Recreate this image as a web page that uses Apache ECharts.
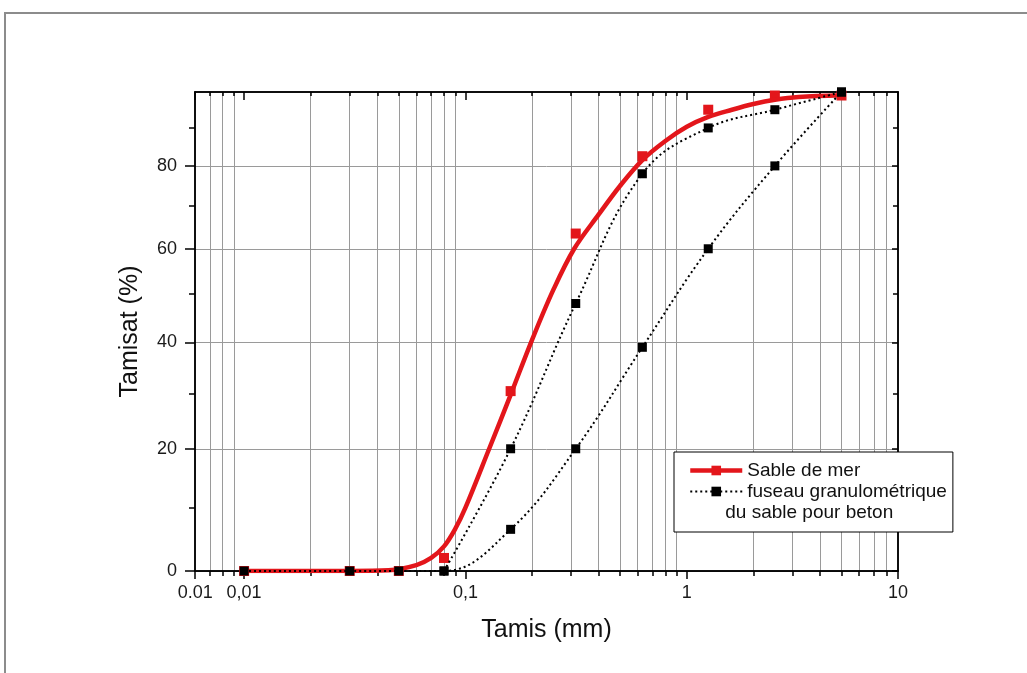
<!DOCTYPE html>
<html>
<head>
<meta charset="UTF-8">
<title>Courbe granulométrique</title>
<script src="https://cdn.jsdelivr.net/npm/echarts@6/dist/echarts.min.js"></script>
<style>
    body { margin: 0; background: #fff; }
    #cadre { position: absolute; left: 4px; top: 12px; width: 1030px; height: 670px;
             border-top: 2px solid #8c8c8c; border-left: 2px solid #8c8c8c; }
    #main { position: absolute; left: 0; top: 0; width: 1027px; height: 673px; }
</style>
</head>
<body>
<div id="cadre"></div>
<div id="main"></div>
<script>
// ouvertures des tamis (mm)
var tamis = [0.01, 0.03, 0.05, 0.08, 0.16, 0.315, 0.63, 1.25, 2.5, 5];
// tamisats (%)
var sableMer  = [0, 0, 0, 2, 30.5, 63.5, 82.5, 95, 99, 99];
var fuseauSup = [null, null, null, 0, 20, 48, 78, 90, 95, 100];
var fuseauInf = [0, 0, 0, 0, 6.5, 20, 39, 60, 80, 100];
// courbe lissee du sable de mer
var lisseX = [0.01, 0.03, 0.045, 0.06, 0.07, 0.08, 0.09, 0.1, 0.128, 0.16, 0.2, 0.25, 0.31, 0.4, 0.5, 0.63, 0.8, 1, 1.25, 1.6, 2, 2.5, 3.2, 5];
var lisseY = [0, 0, 0.1, 0.9, 2, 3.8, 6.6, 10, 20, 29.8, 40.5, 51, 60, 68, 75, 81.5, 86.5, 90.3, 93, 95, 96.6, 97.8, 98.6, 99.1];

// graduations
var xMajor = [0.00601, 0.01, 0.1, 1, 8.99];
var xMinor = [0.007, 0.008, 0.009,
    0.02, 0.03, 0.04, 0.05, 0.06, 0.07, 0.08, 0.09,
    0.2, 0.3, 0.4, 0.5, 0.6, 0.7, 0.8, 0.9,
    2, 3, 4, 5, 6, 7, 8];
var yMajor = [0, 20, 40, 60, 80];
var yMinor = [10, 30, 50, 70, 90];

// echelle verticale non lineaire du graphique d'origine
var C = 270;
function ty(v) { return v / (v + C); }
function inv(t) { return C * t / (1 - t); }

function paires(xs, ys) {
    var out = [];
    for (var i = 0; i < xs.length; i++) {
        if (ys[i] != null) out.push([xs[i], ty(ys[i])]);
    }
    return out;
}

var rouge = '#e3161b';
var police = 'Liberation Sans, Arial, sans-serif';
var gris = '#9a9a9a';

function xAxe(pos, ticks, len, inside, labels, grid) {
    return {
        type: 'log', logBase: 10, position: pos, min: 0.006, max: 9, silent: true,
        axisLine: { show: true, onZero: false, lineStyle: { color: '#000', width: 1.5 } },
        axisTick: { show: true, inside: inside, length: len, customValues: ticks,
                    lineStyle: { color: '#000', width: 1.5 } },
        axisLabel: labels ? {
            show: true, customValues: ticks, margin: 13, fontSize: 18, color: '#1a1a1a', fontFamily: police,
            formatter: function (v) {
                if (v < 0.0065) return '0.01';
                if (v > 8) return '10';
                return String(+v.toPrecision(3)).replace('.', ',');
            }
        } : { show: false },
        splitLine: { show: grid, lineStyle: { color: gris, width: 1 } },
        minorTick: { show: false }
    };
}

function yAxe(pos, ticks, len, inside, labels, grid) {
    return {
        type: 'value', position: pos, min: 0, max: ty(100), silent: true,
        axisLine: { show: true, onZero: false, lineStyle: { color: '#000', width: 1.5 } },
        axisTick: { show: true, inside: inside, length: len, customValues: ticks.map(ty),
                    lineStyle: { color: '#000', width: 1.5 } },
        axisLabel: labels ? {
            show: true, customValues: ticks.map(ty), margin: 18, fontSize: 18, color: '#1a1a1a', fontFamily: police,
            formatter: function (t) { return Math.round(inv(t)); }
        } : { show: false },
        splitLine: { show: grid, lineStyle: { color: gris, width: 1 } }
    };
}

var xs = [
    xAxe('bottom', xMajor, 8, false, true, false),
    xAxe('bottom', xMinor, 5, false, false, true),
    xAxe('top', xMajor, 8, true, false, false),
    xAxe('top', xMinor, 4, true, false, false)
];
xs[0].name = 'Tamis (mm)';
xs[0].nameLocation = 'middle';
xs[0].nameGap = 47;
xs[0].nameTextStyle = { fontSize: 25, color: '#111', fontFamily: police };

var ys = [
    yAxe('left', yMajor, 10, false, true, true),
    yAxe('left', yMinor, 6, false, false, false),
    yAxe('right', yMajor, 6, true, false, false),
    yAxe('right', yMinor, 5, true, false, false)
];
ys[0].name = 'Tamisat (%)';
ys[0].nameLocation = 'middle';
ys[0].nameGap = 52;
ys[0].nameTextStyle = { fontSize: 25, color: '#111', fontFamily: police };

var nomFuseau = 'fuseau granulométrique';
var nomLigne2 = 'du sable pour beton';
var pointille = { color: '#000', width: 2, type: [2, 3] };

var myChart = echarts.init(document.getElementById('main'));
var option = {
    animation: false,
    grid: { left: 195, right: 129, top: 92, bottom: 102 },
    xAxis: xs,
    yAxis: ys,
    legend: {
        orient: 'vertical', left: 674, top: 452,
        padding: [9, 6, 10, 14], itemGap: 2, itemWidth: 52, itemHeight: 12,
        borderColor: '#000', borderWidth: 1, backgroundColor: '#fff',
        selectedMode: false,
        textStyle: { fontSize: 19, color: '#111', fontFamily: police },
        data: [
            { name: 'Sable de mer', lineStyle: { width: 4.5, color: rouge } },
            { name: nomFuseau, lineStyle: { width: 2, type: [2, 3], color: '#000' } },
            { name: nomLigne2, icon: 'rect', itemStyle: { opacity: 0 }, textStyle: { padding: [0, 0, 0, -22] } }
        ]
    },
    series: [
        {
            name: 'Sable de mer', type: 'line', smooth: 0.35, showSymbol: false,
            symbol: 'rect', symbolSize: 10,
            data: paires(lisseX, lisseY),
            itemStyle: { color: rouge },
            lineStyle: { color: rouge, width: 4.5 }
        },
        {
            name: 'Sable de mer', type: 'scatter', symbol: 'rect', symbolSize: 10,
            data: paires(tamis, sableMer),
            itemStyle: { color: rouge, opacity: 1 }
        },
        {
            name: nomFuseau, type: 'line', smooth: 0.4, symbol: 'rect', symbolSize: 9,
            data: paires(tamis, fuseauSup),
            itemStyle: { color: '#000' },
            lineStyle: pointille
        },
        {
            name: nomFuseau, type: 'line', smooth: 0.4, symbol: 'rect', symbolSize: 9,
            data: paires(tamis, fuseauInf),
            itemStyle: { color: '#000' },
            lineStyle: pointille
        },
        {
            name: nomLigne2, type: 'line', data: [],
            itemStyle: { color: 'rgba(0,0,0,0)' },
            lineStyle: { color: 'rgba(0,0,0,0)' }
        }
    ]
};
myChart.setOption(option);
</script>
</body>
</html>
